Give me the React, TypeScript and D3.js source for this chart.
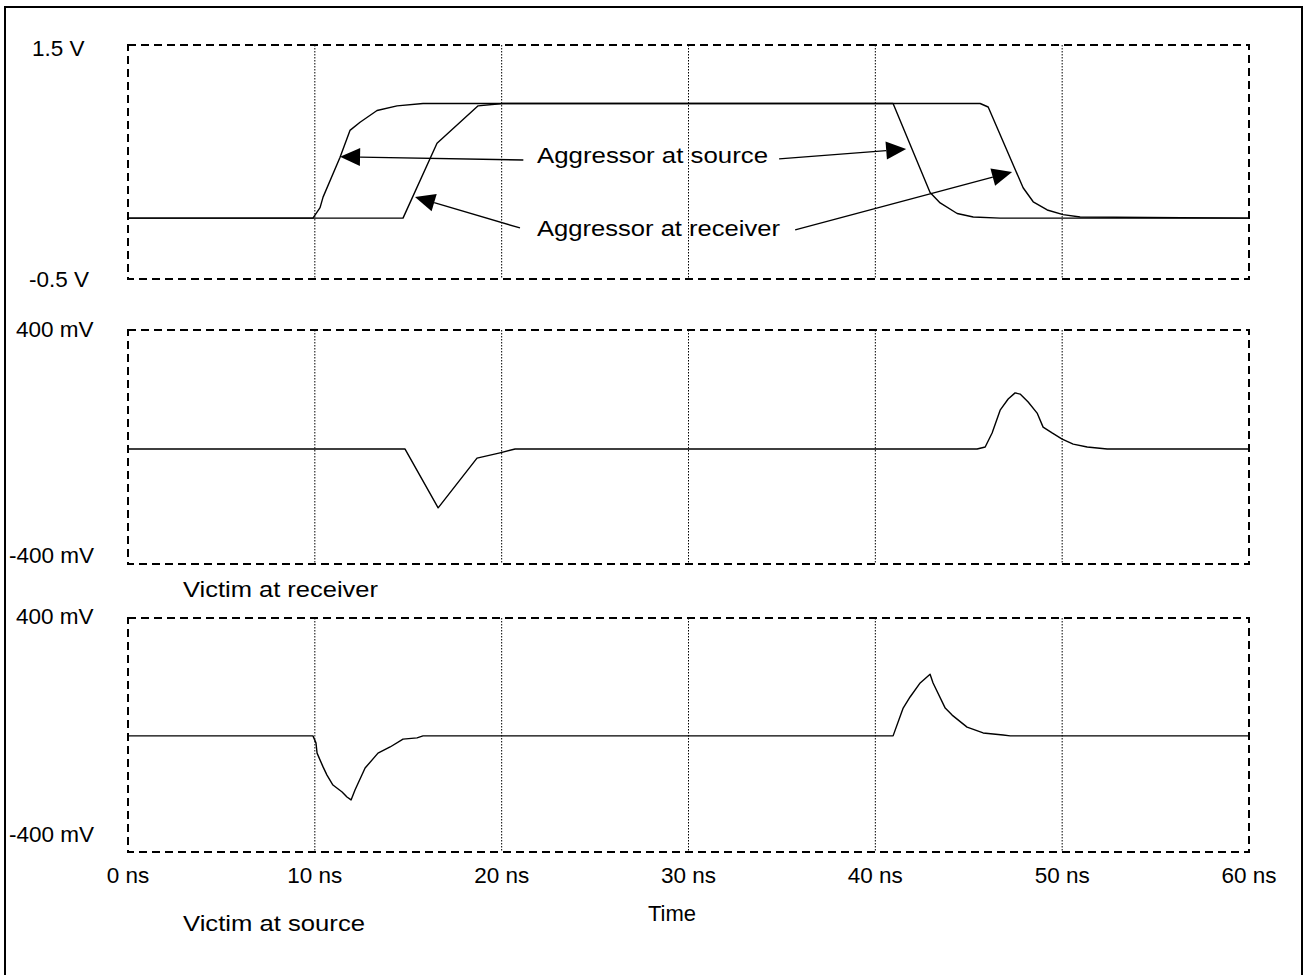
import React from "react";
import * as d3 from "d3";

// ---------- data ----------
const timeTicks = [0, 10, 20, 30, 40, 50, 60];
const timeTickLabels = ["0 ns", "10 ns", "20 ns", "30 ns", "40 ns", "50 ns", "60 ns"];

const topRange = [-0.5, 1.5];
const topRangeLabels = ["-0.5 V", "1.5 V"];
const victimRange = [-400, 400];
const victimRangeLabels = ["-400 mV", "400 mV"];

// Aggressor at source (ns, V)
const aggSrcT = [0, 9.9, 10.28, 10.44, 11.35, 11.88, 12.42, 13.33, 14.4, 15.79, 40.95, 42.93, 43.47, 44.38, 45.24, 46.68, 60];
const aggSrcV = [0.02, 0.02, 0.11, 0.2, 0.54, 0.77, 0.84, 0.94, 0.98, 1.0, 1.0, 0.24, 0.15, 0.06, 0.03, 0.02, 0.02];

// Aggressor at receiver (ns, V)
const aggRcvT = [0, 14.72, 16.54, 18.74, 20.07, 45.61, 46.04, 47.91, 48.45, 49.2, 50.05, 50.96, 60];
const aggRcvV = [0.02, 0.02, 0.66, 0.98, 1.0, 1.0, 0.97, 0.28, 0.16, 0.09, 0.05, 0.03, 0.02];

// Victim at receiver (ns, mV)
const vicRcvT = [0, 14.83, 16.6, 18.68, 19.91, 20.72, 45.45, 45.88, 46.25, 46.68, 47.11, 47.48, 47.75, 48.18, 48.66, 48.98, 49.46, 50.0, 50.59, 51.34, 52.41, 60];
const vicRcvMV = [-7, -7, -208, -38, -20, -7, -7, 0, 48, 126, 164, 185, 181, 154, 116, 68, 48, 27, 10, 0, -7, -7];

// Victim at source (ns, mV)
const vicSrcT = [0, 9.9, 10.06, 10.12, 10.44, 10.65, 10.97, 11.46, 11.72, 11.94, 12.15, 12.69, 13.38, 14.03, 14.72, 15.47, 15.79, 40.95, 41.49, 41.86, 42.4, 42.93, 43.09, 43.74, 44.11, 44.91, 45.77, 46.84, 47.22, 60];
const vicSrcMV = [-3, -3, -27, -62, -109, -137, -171, -195, -212, -222, -188, -113, -62, -41, -14, -10, -3, -3, 92, 130, 178, 208, 178, 92, 68, 27, 7, 0, -3, -3];

// Annotations (top panel, in ns / V)
const annotationTexts = ["Aggressor at source", "Aggressor at receiver"];
const arrowTailT = [21.16, 34.85, 20.98, 35.71];
const arrowTailV = [0.517, 0.526, -0.064, -0.081];
const arrowTipT = [11.35, 41.65, 15.36, 47.32];
const arrowTipV = [0.545, 0.611, 0.201, 0.415];

const panelTitles = ["Victim at receiver", "Victim at source"];
const axisTitle = "Time";

// ---------- layout ----------
const W = 1305;
const H = 975;
const FONT = "'Liberation Sans', Arial, Helvetica, sans-serif";
const FS = 22.5;

const x = d3.scaleLinear().domain([0, 60]).range([128, 1249]);
const yTop = d3.scaleLinear().domain(topRange).range([279, 45]);
const yMid = d3.scaleLinear().domain(victimRange).range([564, 330]);
const yBot = d3.scaleLinear().domain(victimRange).range([852, 618]);

function pathFor(ts: number[], vs: number[], y: d3.ScaleLinear<number, number>) {
  const pts: [number, number][] = ts.map((t, i) => [t, vs[i]]);
  return d3
    .line<[number, number]>()
    .x((d) => x(d[0]))
    .y((d) => y(d[1]))
    .curve(d3.curveLinear)(pts) as string;
}

function Panel({ y }: { y: d3.ScaleLinear<number, number> }) {
  const [y0, y1] = y.range();
  const top = Math.min(y0, y1);
  const bot = Math.max(y0, y1);
  const [x0, x1] = x.range();
  return (
    <g>
      {timeTicks.slice(1, -1).map((t) => (
        <line
          key={t}
          x1={x(t)}
          x2={x(t)}
          y1={top}
          y2={bot}
          stroke="#000"
          strokeWidth={1}
          strokeDasharray="1.5,1.5"
        />
      ))}
      <rect
        x={x0}
        y={top}
        width={x1 - x0}
        height={bot - top}
        fill="none"
        stroke="#000"
        strokeWidth={2}
        strokeDasharray="8,5"
      />
    </g>
  );
}

function Arrow({ i }: { i: number }) {
  const tx = x(arrowTailT[i]);
  const ty = yTop(arrowTailV[i]);
  const px = x(arrowTipT[i]);
  const py = yTop(arrowTipV[i]);
  const ang = Math.atan2(py - ty, px - tx);
  const L = 20;
  const hw = 9;
  const bx = px - L * Math.cos(ang);
  const by = py - L * Math.sin(ang);
  const nx = -Math.sin(ang);
  const ny = Math.cos(ang);
  const poly = [
    [px, py],
    [bx + hw * nx, by + hw * ny],
    [bx - hw * nx, by - hw * ny],
  ]
    .map((p) => p.join(","))
    .join(" ");
  return (
    <g>
      <line x1={tx} y1={ty} x2={bx} y2={by} stroke="#000" strokeWidth={1.3} />
      <polygon points={poly} fill="#000" />
    </g>
  );
}

export default function App() {
  const lineStyle = { fill: "none", stroke: "#000", strokeWidth: 1.4, strokeLinejoin: "round" as const };
  return (
    <svg
      width={W}
      height={H}
      style={{ position: "absolute", left: 0, top: 0, background: "#fff" }}
      fontFamily={FONT}
      fontSize={FS}
    >
      <rect x={0} y={0} width={W} height={H} fill="#fff" />
      <rect x={5} y={7} width={1297} height={1000} fill="none" stroke="#000" strokeWidth={2} />

      <Panel y={yTop} />
      <Panel y={yMid} />
      <Panel y={yBot} />

      {/* curves */}
      <path d={pathFor(aggSrcT, aggSrcV, yTop)} {...lineStyle} />
      <path d={pathFor(aggRcvT, aggRcvV, yTop)} {...lineStyle} />
      <path d={pathFor(vicRcvT, vicRcvMV, yMid)} {...lineStyle} />
      <path d={pathFor(vicSrcT, vicSrcMV, yBot)} {...lineStyle} />

      {/* arrows */}
      {[0, 1, 2, 3].map((i) => (
        <Arrow key={i} i={i} />
      ))}

      {/* annotation labels */}
      <text x={537} y={163} textLength={231} lengthAdjust="spacingAndGlyphs">
        {annotationTexts[0]}
      </text>
      <text x={537} y={236} textLength={243} lengthAdjust="spacingAndGlyphs">
        {annotationTexts[1]}
      </text>

      {/* y range labels */}
      <text x={32} y={56}>{topRangeLabels[1]}</text>
      <text x={29} y={287}>{topRangeLabels[0]}</text>
      <text x={16} y={337}>{victimRangeLabels[1]}</text>
      <text x={9} y={563}>{victimRangeLabels[0]}</text>
      <text x={16} y={624}>{victimRangeLabels[1]}</text>
      <text x={9} y={842}>{victimRangeLabels[0]}</text>

      {/* panel titles */}
      <text x={183} y={597} textLength={195} lengthAdjust="spacingAndGlyphs">
        {panelTitles[0]}
      </text>
      <text x={183} y={931} textLength={182} lengthAdjust="spacingAndGlyphs">
        {panelTitles[1]}
      </text>

      {/* x tick labels */}
      {timeTicks.map((t, i) => (
        <text key={t} x={x(t)} y={883} textAnchor="middle">
          {timeTickLabels[i]}
        </text>
      ))}
      <text x={672} y={921} textAnchor="middle" fontSize={22}>
        {axisTitle}
      </text>
    </svg>
  );
}
